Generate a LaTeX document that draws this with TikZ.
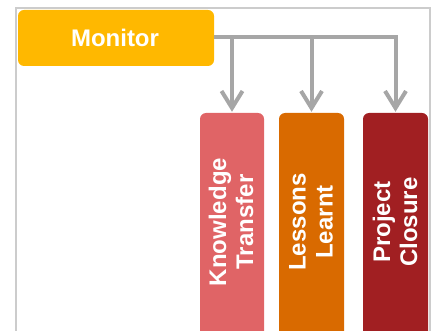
\documentclass[tikz,border=0pt]{standalone}
\usepackage{fontspec}
\setmainfont{Liberation Sans}
\usetikzlibrary{arrows.meta}
\definecolor{frameg}{HTML}{CCCCCC}
\definecolor{conng}{HTML}{A6A6A6}
\definecolor{monc}{HTML}{FFB800}
\definecolor{ktc}{HTML}{E06466}
\definecolor{llc}{HTML}{D96A00}
\definecolor{pcc}{HTML}{A11F22}
\tikzset{
  mbox/.style={rounded corners=6pt, inner sep=0pt},
  lbl/.style={text=white, font=\fontsize{24}{27}\selectfont\bfseries, align=center, rotate=90},
  conn/.style={draw=conng, line width=4pt, -{Straight Barb[length=17pt,width=21pt]}, shorten >=1pt}
}
\begin{document}
\begin{tikzpicture}[x=1pt,y=-1pt]
\useasboundingbox (0,0) rectangle (433,331);
\draw[frameg, line width=2pt] (15.5,335) -- (15.5,8) -- (429.5,8) -- (429.5,335);
\node[mbox, fill=monc, minimum width=196pt, minimum height=56pt] (monitor) at (116,38) {};
\node[text=white, font=\fontsize{24}{27}\selectfont\bfseries] (monitorlbl) at (115,38) {Monitor};
\node[mbox, fill=ktc, minimum width=64pt, minimum height=240pt] (kt) at (232,233) {};
\node[mbox, fill=llc, minimum width=65pt, minimum height=240pt] (ll) at (311.5,233) {};
\node[mbox, fill=pcc, minimum width=65pt, minimum height=240pt] (pc) at (395.5,233) {};
\node[lbl] (ktlbl) at (231,222) {Knowledge\\Transfer};
\node[lbl] (lllbl) at (311,222) {Lessons\\Learnt};
\node[lbl] (pclbl) at (395,222) {Project\\Closure};
\draw[conn] (monitor.east |- 0,37) -| (kt.north);
\draw[conn] (monitor.east |- 0,37) -| (ll.north);
\draw[conn] (monitor.east |- 0,37) -| (pc.north);
\end{tikzpicture}
\end{document}
